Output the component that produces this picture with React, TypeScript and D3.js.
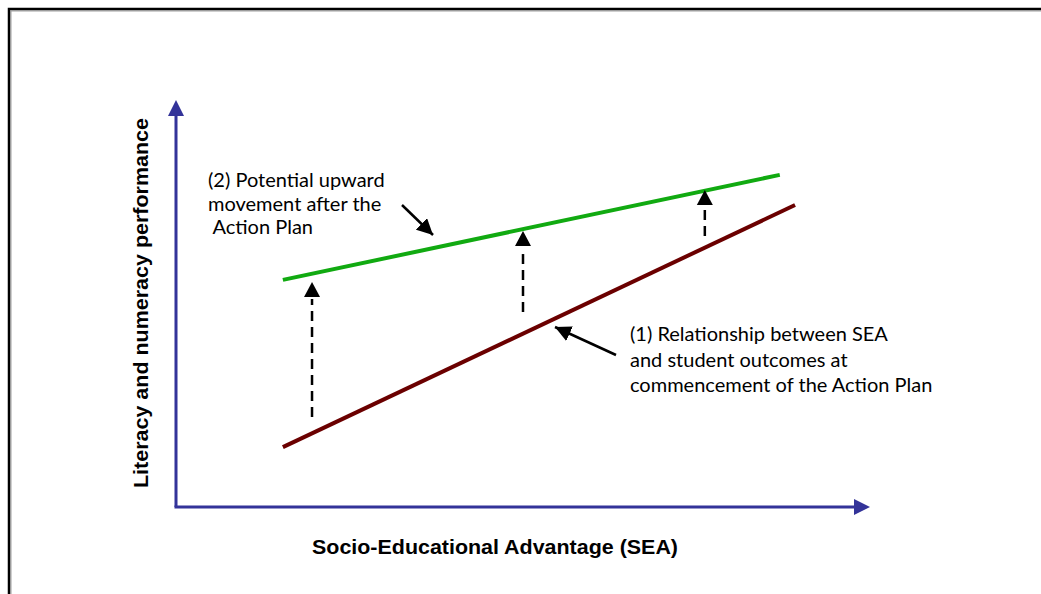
import React, { useEffect, useRef } from 'react';
import * as d3 from 'd3';

// conceptual chart: both axes run 0-100
const xLabel = 'Socio-Educational Advantage (SEA)';
const yLabel = 'Literacy and numeracy performance';

// (1) relationship at commencement (maroon)
const baselineX = [15.4, 89.2];
const baselineY = [14.7, 74.2];

// (2) potential upward movement (green)
const upwardX = [15.4, 87.0];
const upwardY = [55.8, 81.6];

// dashed upward arrows
const liftX = [19.6, 50.0, 76.2];
const liftFrom = [22.1, 47.9, 66.6];
const liftTo = [55.3, 67.8, 77.9];

const note2 = ['(2) Potential upward', 'movement after the', ' Action Plan'];
const note1 = ['(1) Relationship between SEA', 'and student outcomes at', 'commencement of the Action Plan'];

const W = 1041;
const H = 594;

const App: React.FC = () => {
  const svgRef = useRef<SVGSVGElement>(null);

  useEffect(() => {
    if (!svgRef.current) return;
    const svg = d3.select(svgRef.current);
    svg.selectAll('*').remove();

    const x = d3.scaleLinear().domain([0, 100]).range([176, 870]);
    const y = d3.scaleLinear().domain([0, 100]).range([507, 100]);

    // frame
    svg.append('path')
      .attr('d', `M11,${H + 5} V11 H${W + 5}`)
      .attr('fill', 'none')
      .attr('stroke', '#a0a0a0')
      .attr('stroke-width', 1);
    svg.append('path')
      .attr('d', `M9,${H + 5} V9 H${W + 5}`)
      .attr('fill', 'none')
      .attr('stroke', '#000')
      .attr('stroke-width', 2.5);

    const defs = svg.append('defs');
    defs.append('marker')
      .attr('id', 'blackHead')
      .attr('viewBox', '0 0 10 10')
      .attr('refX', 10).attr('refY', 5)
      .attr('markerWidth', 16).attr('markerHeight', 16)
      .attr('markerUnits', 'userSpaceOnUse')
      .attr('orient', 'auto')
      .append('path').attr('d', 'M0,0 L10,5 L0,10 Z').attr('fill', '#000');

    // axes
    const axisColor = '#333399';
    const axes = svg.append('g');
    axes.append('path')
      .attr('d', `M${x(0)},${y(0)} V${y(100) + 14}`)
      .attr('stroke', axisColor).attr('stroke-width', 3).attr('fill', 'none');
    axes.append('path')
      .attr('d', `M${x(0)},${y(100)} l-8,16 h16 Z`)
      .attr('fill', axisColor);
    axes.append('path')
      .attr('d', `M${x(0) - 1.5},${y(0)} H${x(100) - 14}`)
      .attr('stroke', axisColor).attr('stroke-width', 3).attr('fill', 'none');
    axes.append('path')
      .attr('d', `M${x(100)},${y(0)} l-16,-8 v16 Z`)
      .attr('fill', axisColor);

    axes.append('text')
      .attr('x', 495).attr('y', 554)
      .attr('text-anchor', 'middle')
      .attr('font-family', '"Liberation Sans", Arial, sans-serif')
      .attr('font-weight', 'bold')
      .attr('font-size', 20)
      .attr('textLength', 366)
      .attr('lengthAdjust', 'spacingAndGlyphs')
      .attr('fill', '#000')
      .text(xLabel);

    axes.append('text')
      .attr('transform', `translate(148,${303}) rotate(-90)`)
      .attr('text-anchor', 'middle')
      .attr('font-family', '"Liberation Sans", Arial, sans-serif')
      .attr('font-weight', 'bold')
      .attr('font-size', 20)
      .attr('textLength', 370)
      .attr('lengthAdjust', 'spacingAndGlyphs')
      .attr('fill', '#000')
      .text(yLabel);

    const line = d3.line<[number, number]>()
      .x(d => x(d[0]))
      .y(d => y(d[1]));

    svg.append('path')
      .datum(baselineX.map((v, i) => [v, baselineY[i]] as [number, number]))
      .attr('d', line)
      .attr('stroke', '#6b0000').attr('stroke-width', 4).attr('fill', 'none');

    svg.append('path')
      .datum(upwardX.map((v, i) => [v, upwardY[i]] as [number, number]))
      .attr('d', line)
      .attr('stroke', '#11aa11').attr('stroke-width', 4).attr('fill', 'none');

    // dashed upward arrows
    liftX.forEach((v, i) => {
      const px = x(v);
      const tip = y(liftTo[i]);
      svg.append('line')
        .attr('x1', px).attr('x2', px)
        .attr('y1', y(liftFrom[i])).attr('y2', tip + 17)
        .attr('stroke', '#000').attr('stroke-width', 2.5)
        .attr('stroke-dasharray', '10,6');
      svg.append('path')
        .attr('d', `M${px},${tip} l-8,15 h16 Z`)
        .attr('fill', '#000');
    });

    // annotation text
    const noteFont = 'Lato, "Open Sans", sans-serif';
    const t2 = svg.append('text')
      .attr('font-family', noteFont).attr('font-size', 20).attr('fill', '#000')
      .attr('xml:space', 'preserve');
    note2.forEach((s, i) => {
      t2.append('tspan').attr('x', 208).attr('y', 187 + i * 23.5).text(s);
    });
    const t1 = svg.append('text')
      .attr('font-family', noteFont).attr('font-size', 20).attr('fill', '#000')
      .attr('xml:space', 'preserve');
    note1.forEach((s, i) => {
      t1.append('tspan').attr('x', 630).attr('y', 341 + i * 25.5).text(s);
    });

    // pointer arrows
    svg.append('line')
      .attr('x1', 402).attr('y1', 205).attr('x2', 433).attr('y2', 235)
      .attr('stroke', '#000').attr('stroke-width', 2.5)
      .attr('marker-end', 'url(#blackHead)');
    svg.append('line')
      .attr('x1', 616).attr('y1', 355).attr('x2', 555).attr('y2', 327)
      .attr('stroke', '#000').attr('stroke-width', 2.5)
      .attr('marker-end', 'url(#blackHead)');
  }, []);

  return (
    <svg
      ref={svgRef}
      width={W}
      height={H}
      style={{ position: 'absolute', left: 0, top: 0, background: '#fff' }}
    />
  );
};

export default App;
